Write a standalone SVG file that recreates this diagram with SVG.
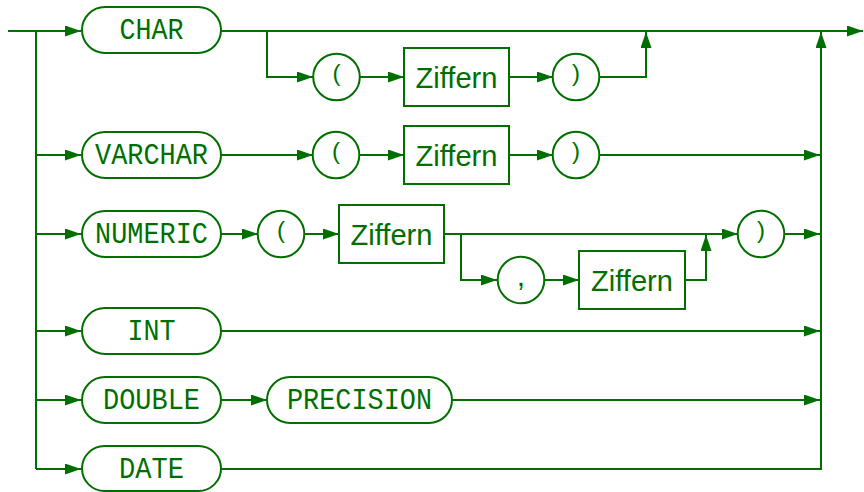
<svg xmlns="http://www.w3.org/2000/svg" width="864" height="492" viewBox="0 0 864 492">
<style>
.ln{fill:none;stroke:#006f00;stroke-width:2;}
.sh{fill:#fff;stroke:#006f00;stroke-width:2;}
.kw{font-family:"Liberation Mono","Courier New",monospace;font-size:30px;fill:#006f00;text-anchor:middle;}
.nt{font-family:"Liberation Sans",Arial,sans-serif;font-size:30px;fill:#006f00;text-anchor:middle;}
.pa{font-family:"Liberation Sans",Arial,sans-serif;font-size:24px;fill:#006f00;text-anchor:middle;}
</style>
<defs>
<marker id="ah" markerUnits="userSpaceOnUse" markerWidth="16" markerHeight="11" refX="16" refY="5.5" orient="auto">
<path d="M0,0 L16,5.5 L0,11 z" fill="#006f00"/>
</marker>
</defs>
<rect width="864" height="492" fill="#fff"/>
<g id="connectors">
<path class="ln" d="M8,31 H81" marker-end="url(#ah)"/>
<path class="ln" d="M221,31 H863" marker-end="url(#ah)"/>
<path class="ln" d="M36,31 V469"/>
<path class="ln" d="M267,31 V77 H313" marker-end="url(#ah)"/>
<path class="ln" d="M360,77 H404" marker-end="url(#ah)"/>
<path class="ln" d="M509,77 H553" marker-end="url(#ah)"/>
<path class="ln" d="M599,77 H646 V32" marker-end="url(#ah)"/>
<path class="ln" d="M36,155 H81" marker-end="url(#ah)"/>
<path class="ln" d="M221,155 H313" marker-end="url(#ah)"/>
<path class="ln" d="M359,155 H404" marker-end="url(#ah)"/>
<path class="ln" d="M509,155 H553" marker-end="url(#ah)"/>
<path class="ln" d="M599,155 H820" marker-end="url(#ah)"/>
<path class="ln" d="M36,234 H81" marker-end="url(#ah)"/>
<path class="ln" d="M221,234 H258" marker-end="url(#ah)"/>
<path class="ln" d="M304,234 H339" marker-end="url(#ah)"/>
<path class="ln" d="M444,234 H738" marker-end="url(#ah)"/>
<path class="ln" d="M461,234 V280 H497" marker-end="url(#ah)"/>
<path class="ln" d="M544,280 H579" marker-end="url(#ah)"/>
<path class="ln" d="M685,280 H706 V235" marker-end="url(#ah)"/>
<path class="ln" d="M785,234 H820" marker-end="url(#ah)"/>
<path class="ln" d="M36,331 H81" marker-end="url(#ah)"/>
<path class="ln" d="M221,331 H820" marker-end="url(#ah)"/>
<path class="ln" d="M36,400 H81" marker-end="url(#ah)"/>
<path class="ln" d="M221,400 H267" marker-end="url(#ah)"/>
<path class="ln" d="M452,400 H820" marker-end="url(#ah)"/>
<path class="ln" d="M36,469 H81" marker-end="url(#ah)"/>
<path class="ln" d="M221,469 H821 V32" marker-end="url(#ah)"/>
</g>
<g id="char"><rect class="sh" x="82" y="7" width="139" height="46" rx="23"/><text class="kw" x="151.5" y="38.5" textLength="64" lengthAdjust="spacingAndGlyphs">CHAR</text></g>
<g id="lp1"><circle class="sh" cx="336.5" cy="77" r="23.3"/><text class="pa" x="336.5" y="80.5">(</text></g>
<g id="ziffern1"><rect class="sh" x="404" y="48" width="105" height="58"/><text class="nt" x="456.5" y="88" textLength="82" lengthAdjust="spacingAndGlyphs">Ziffern</text></g>
<g id="rp1"><circle class="sh" cx="576" cy="77" r="23.3"/><text class="pa" x="576" y="80.5">)</text></g>
<g id="varchar"><rect class="sh" x="82" y="132" width="139" height="46" rx="23"/><text class="kw" x="151.5" y="163.5" textLength="113" lengthAdjust="spacingAndGlyphs">VARCHAR</text></g>
<g id="lp2"><circle class="sh" cx="336" cy="155" r="23.3"/><text class="pa" x="336" y="158.5">(</text></g>
<g id="ziffern2"><rect class="sh" x="404" y="126" width="105" height="58"/><text class="nt" x="456.5" y="166" textLength="82" lengthAdjust="spacingAndGlyphs">Ziffern</text></g>
<g id="rp2"><circle class="sh" cx="576" cy="155" r="23.3"/><text class="pa" x="576" y="158.5">)</text></g>
<g id="numeric"><rect class="sh" x="82" y="211" width="139" height="46" rx="23"/><text class="kw" x="151.5" y="242.5" textLength="113" lengthAdjust="spacingAndGlyphs">NUMERIC</text></g>
<g id="lp3"><circle class="sh" cx="281" cy="234" r="23.3"/><text class="pa" x="281" y="237.5">(</text></g>
<g id="ziffern3"><rect class="sh" x="339" y="205" width="105" height="58"/><text class="nt" x="391.5" y="245" textLength="82" lengthAdjust="spacingAndGlyphs">Ziffern</text></g>
<g id="comma"><circle class="sh" cx="521" cy="280" r="23.3"/><text class="nt" x="521" y="286">,</text></g>
<g id="ziffern4"><rect class="sh" x="579" y="251" width="106" height="58"/><text class="nt" x="632" y="291" textLength="82" lengthAdjust="spacingAndGlyphs">Ziffern</text></g>
<g id="rp3"><circle class="sh" cx="761" cy="234" r="23.3"/><text class="pa" x="761" y="237.5">)</text></g>
<g id="int"><rect class="sh" x="82" y="308" width="139" height="46" rx="23"/><text class="kw" x="151.5" y="339.5" textLength="48" lengthAdjust="spacingAndGlyphs">INT</text></g>
<g id="double"><rect class="sh" x="82" y="377" width="139" height="46" rx="23"/><text class="kw" x="151.5" y="408.5" textLength="97" lengthAdjust="spacingAndGlyphs">DOUBLE</text></g>
<g id="precision"><rect class="sh" x="267" y="377" width="185" height="46" rx="23"/><text class="kw" x="359.5" y="408.5" textLength="145" lengthAdjust="spacingAndGlyphs">PRECISION</text></g>
<g id="date"><rect class="sh" x="82" y="446" width="139" height="45" rx="22.5"/><text class="kw" x="151.5" y="477.5" textLength="65" lengthAdjust="spacingAndGlyphs">DATE</text></g>
</svg>
